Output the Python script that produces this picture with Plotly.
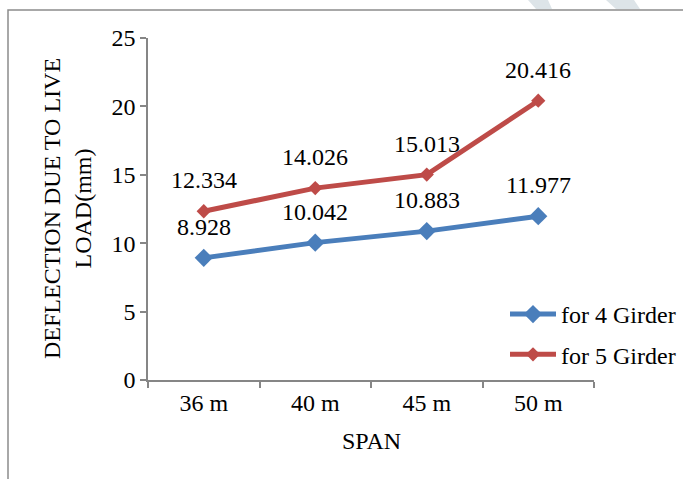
import plotly.graph_objects as go

# Span categories and live-load deflection (mm)
spans = ["36 m", "40 m", "45 m", "50 m"]
girder4 = [8.928, 10.042, 10.883, 11.977]
girder5 = [12.334, 14.026, 15.013, 20.416]
series_names = ["for 4 Girder", "for 5 Girder"]
y_ticks = [0, 5, 10, 15, 20, 25]

FONT = "Liberation Serif, Times New Roman, serif"
FS = 24
BLUE = "#4A7EBB"
RED = "#BE4B48"
AXIS = "#868686"

W, H = 683, 479
L, R, T, B = 148, 89, 38, 99
pw, ph = W - L - R, H - T - B


def px_x(px):
    return (px - L) / pw


def px_y(py):
    return (H - B - py) / ph


fig = go.Figure()
fig.add_trace(go.Scatter(
    x=spans, y=girder4, name=series_names[0], mode="lines+markers",
    legendgroup="g4",
    line=dict(color=BLUE, width=5),
    marker=dict(symbol="diamond", size=14, color=BLUE),
))
fig.add_trace(go.Scatter(
    x=spans, y=girder5, name=series_names[1], mode="lines+markers",
    legendgroup="g5",
    line=dict(color=RED, width=5),
    marker=dict(symbol="diamond", size=11, color=RED),
))

# value labels above each point
annotations = []
for ys in (girder4, girder5):
    for xv, yv in zip(spans, ys):
        annotations.append(dict(
            x=xv, y=yv, xref="x", yref="y", text=f"{yv:.3f}",
            showarrow=False, yshift=31, xanchor="center", yanchor="middle",
            font=dict(family=FONT, size=FS, color="black"),
        ))

# axis titles
annotations.append(dict(
    x=px_x(67), y=0.5, xref="paper", yref="paper",
    text="DEFLECTION DUE TO LIVE<br>LOAD(mm)", textangle=-90,
    showarrow=False, xanchor="center", yanchor="middle", align="center",
    font=dict(family=FONT, size=FS, color="black"),
))
annotations.append(dict(
    x=px_x(371), y=px_y(441), xref="paper", yref="paper", text="SPAN",
    showarrow=False, xanchor="center", yanchor="middle",
    font=dict(family=FONT, size=FS, color="black"),
))

shapes = [
    # outer chart frame (runs off the right and bottom edges)
    dict(type="rect", xref="paper", yref="paper",
         x0=px_x(8), y0=px_y(495), x1=px_x(700), y1=px_y(10),
         line=dict(color="#8c8c8c", width=1.5), fillcolor="rgba(0,0,0,0)",
         layer="below"),
    # faint watermark strokes at top edge
    dict(type="path", xref="paper", yref="paper",
         path=f"M {px_x(528)} {px_y(0)} L {px_x(548)} {px_y(0)} L {px_x(552)} {px_y(9)} L {px_x(536)} {px_y(9)} Z",
         fillcolor="#dde4e8", line=dict(width=0), layer="below"),
    dict(type="path", xref="paper", yref="paper",
         path=f"M {px_x(606)} {px_y(0)} L {px_x(634)} {px_y(0)} L {px_x(640)} {px_y(9)} L {px_x(616)} {px_y(9)} Z",
         fillcolor="#dde4e8", line=dict(width=0), layer="below"),
]

fig.update_layout(
    width=W, height=H,
    margin=dict(l=L, r=R, t=T, b=B, pad=0, autoexpand=False),
    paper_bgcolor="white", plot_bgcolor="white",
    font=dict(family=FONT, size=FS, color="black"),
    showlegend=True,
    legend=dict(
        x=px_x(505), y=px_y(292), xanchor="left", yanchor="top",
        bgcolor="rgba(0,0,0,0)", borderwidth=0,
        font=dict(family=FONT, size=FS, color="black"),
        itemwidth=46, tracegroupgap=6,
    ),
    annotations=annotations,
    shapes=shapes,
    xaxis=dict(
        type="category", range=[-0.5, 3.5], tickson="boundaries",
        showline=True, linecolor=AXIS, linewidth=1.5,
        ticks="outside", ticklen=6, tickcolor=AXIS, tickwidth=1.5,
        showgrid=False, zeroline=False, automargin=False,
        tickfont=dict(family=FONT, size=FS, color="black"),
    ),
    yaxis=dict(
        range=[0, 25], tickvals=y_ticks,
        showline=True, linecolor=AXIS, linewidth=1.5,
        ticks="outside", ticklen=6, tickcolor=AXIS, tickwidth=1.5,
        showgrid=False, zeroline=False, automargin=False,
        tickfont=dict(family=FONT, size=FS, color="black"),
    ),
)

fig.write_html("out.html")
